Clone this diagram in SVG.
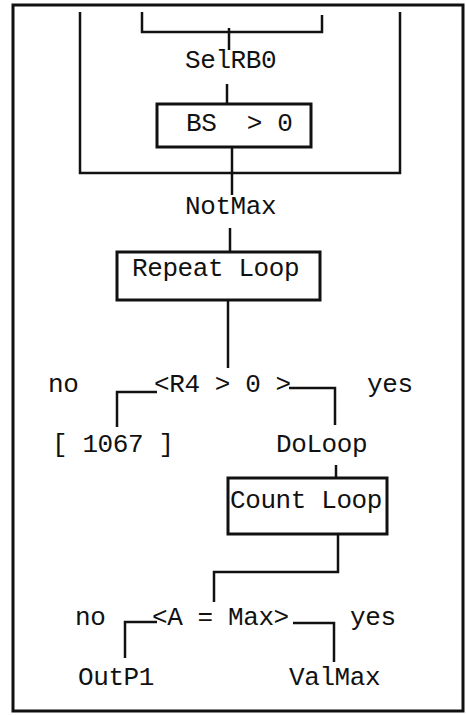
<svg xmlns="http://www.w3.org/2000/svg" width="466" height="715" viewBox="0 0 466 715">
<style>
text{font-family:"Liberation Mono","Courier New",monospace;font-size:26px;letter-spacing:-0.4px;fill:#111}
.ln{fill:none;stroke:#111;stroke-width:2.5}
.box{fill:#fff;stroke:#111;stroke-width:3}
</style>
<rect x="0" y="0" width="466" height="715" fill="#fff"/>
<rect x="13" y="5" width="450" height="706" fill="none" stroke="#111" stroke-width="3"/>
<g id="connectors" class="ln">
<path d="M80 12 V173 H400 V12"/>
<path d="M142 12 V32 H322 V15"/>
<path d="M229 28 V50"/>
<path d="M227 84 V104"/>
<path d="M232 147 V195"/>
<path d="M230 228 V252"/>
<path d="M228 300 V368"/>
<path d="M117 427 V392 H157"/>
<path d="M289 388 H335 V425"/>
<path d="M336 465 V478"/>
<path d="M338 534 V572 H214 V602"/>
<path d="M125 658 V622 H157"/>
<path d="M293 623 H334 V662"/>
</g>
<g id="selrb0"><text x="185" y="68">SelRB0</text></g>
<g id="bs"><rect class="box" x="157" y="104" width="154" height="43"/><text x="186" y="131" xml:space="preserve">BS  &gt; 0</text></g>
<g id="notmax"><text x="185" y="214">NotMax</text></g>
<g id="repeat"><rect class="box" x="117" y="252" width="203" height="48"/><text x="132" y="276">Repeat Loop</text></g>
<g id="r4"><text x="48" y="392">no</text><text x="154" y="392">&lt;R4 &gt; 0 &gt;</text><text x="367" y="392">yes</text></g>
<g id="n1067"><text x="52" y="452">[ 1067 ]</text></g>
<g id="doloop"><text x="276" y="452">DoLoop</text></g>
<g id="count"><rect class="box" x="228" y="478" width="159" height="56"/><text x="230" y="508">Count Loop</text></g>
<g id="amax"><text x="75" y="625">no</text><text x="152" y="625">&lt;A = Max&gt;</text><text x="350" y="625">yes</text></g>
<g id="outp1"><text x="78" y="685">OutP1</text></g>
<g id="valmax"><text x="289" y="685">ValMax</text></g>
</svg>
